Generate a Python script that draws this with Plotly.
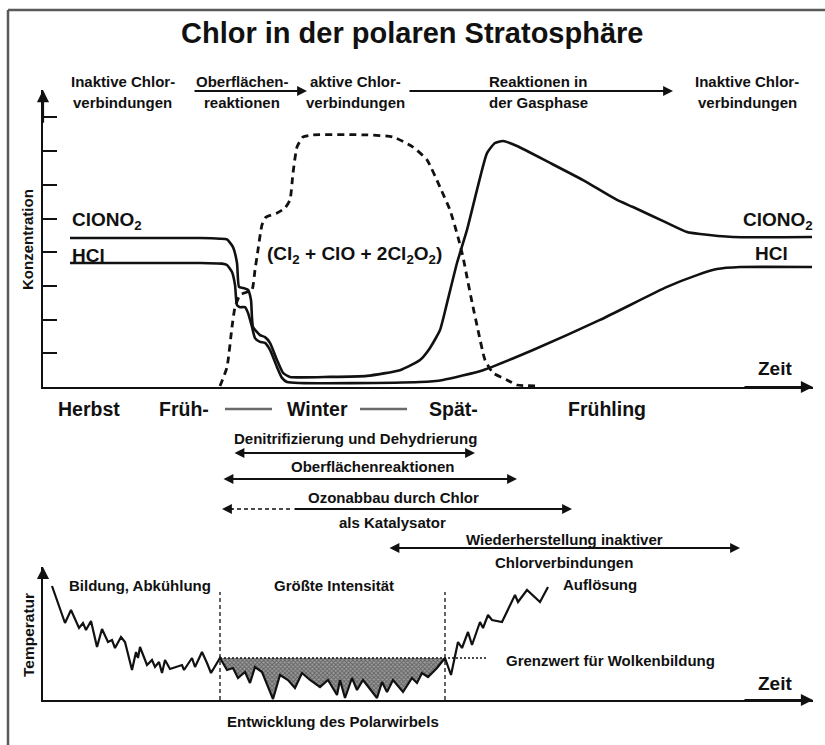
import plotly.graph_objects as go

W, H = 825, 745

# ---------------- data: upper panel (time units / concentration units) ----------------
clono2_t = [2.7, 15.7, 17.7, 18.4, 19.0, 19.4, 19.6, 20.0, 20.5, 20.8, 21.0, 21.7, 22.2, 22.7, 23.4, 24.0, 24.7, 28.7, 32.4, 35.7,
            37.7, 38.7, 39.7, 40.4, 41.4, 42.4, 43.4, 44.4, 45.2, 46.0, 47.4, 50.7, 54.0, 57.4, 59.0, 62.4, 64.4, 65.7, 69.0, 76.9]
clono2_c = [4.42, 4.42, 4.40, 4.38, 4.15, 3.68, 2.97, 2.94, 2.88, 2.58, 1.78, 1.54, 1.48, 1.31, 0.80, 0.42, 0.30, 0.30, 0.33, 0.50,
            0.80, 1.16, 1.69, 2.49, 3.68, 4.66, 5.85, 6.94, 7.24, 7.30, 7.15, 6.65, 6.14, 5.55, 5.34, 4.87, 4.60, 4.54, 4.45, 4.45]

hcl_t = [2.7, 15.7, 17.9, 18.4, 18.9, 19.2, 19.4, 19.7, 20.2, 20.5, 20.9, 21.2, 21.7, 22.2, 22.7, 23.4, 23.9, 24.4,
         37.7, 40.0, 44.0, 49.0, 55.7, 62.4, 65.4, 67.4, 69.7, 76.9]
hcl_c = [3.68, 3.68, 3.66, 3.62, 3.41, 3.03, 2.43, 2.37, 2.37, 2.20, 1.78, 1.45, 1.34, 1.31, 1.10, 0.59, 0.27, 0.15,
         0.15, 0.21, 0.50, 1.10, 1.99, 2.97, 3.32, 3.50, 3.56, 3.56]

active_t = [17.7, 18.4, 18.9, 19.2, 19.7, 20.4, 20.9, 21.2, 21.5, 21.9, 22.3, 23.4, 24.2, 24.7, 25.0, 25.4, 26.0, 27.0,
            32.4, 35.0, 37.0, 38.4, 39.7, 40.7, 41.5, 42.0, 42.4, 42.9, 43.5, 44.2, 45.0, 46.4, 47.4, 49.7]
active_c = [0.03, 0.59, 1.78, 2.37, 2.73, 2.82, 2.88, 3.47, 4.07, 4.81, 5.04, 5.16, 5.31, 5.55, 6.35, 7.12, 7.42, 7.48,
            7.48, 7.42, 7.12, 6.74, 5.93, 5.25, 4.45, 3.86, 3.26, 2.52, 1.69, 0.80, 0.42, 0.21, 0.06, 0.03]

# ---------------- data: lower panel (temperature) ----------------
temp_t = [0.9, 2.2, 2.8, 3.6, 4.0, 4.3, 4.8, 5.4, 5.9, 6.5, 6.9, 7.2, 7.8, 8.2, 8.9, 9.3, 9.5, 9.7, 10.4, 10.9,
          11.2, 11.6, 11.9, 12.2, 12.7, 13.4, 13.9, 14.1, 14.9, 15.2, 15.9, 16.4, 16.8, 17.7, 18.4, 19.0, 19.5, 20.2, 20.7, 21.2,
          21.9, 23.0, 23.7, 24.5, 25.2, 25.9, 26.7, 27.7, 28.5, 29.4, 29.7, 30.2, 30.9, 31.4, 32.0, 33.4, 33.9, 34.4, 35.0, 36.0,
          36.9, 37.4, 37.9, 38.5, 39.4, 40.2, 40.8, 41.5, 41.9, 42.5, 42.9, 43.7, 44.0, 44.5, 44.9, 45.9, 47.2, 47.5, 48.4, 49.7, 50.5]
temp_v = [11.4, 7.7, 9.0, 7.2, 7.7, 7.0, 7.9, 5.3, 7.1, 5.8, 6.0, 5.2, 6.3, 5.8, 3.0, 4.8, 4.2, 5.3, 3.5, 4.0,
          3.3, 3.8, 2.7, 4.0, 3.1, 3.3, 3.5, 3.0, 4.2, 3.3, 4.8, 3.7, 2.7, 4.2, 3.0, 3.2, 2.2, 2.8, 1.7, 3.3,
          2.8, 0.1, 2.5, 2.0, 1.2, 2.7, 2.0, 1.3, 2.0, 0.5, 2.0, 0.2, 2.2, 1.0, 2.0, 0.2, 1.8, 0.8, 2.0, 0.8,
          2.2, 1.7, 2.7, 2.3, 3.2, 4.2, 2.5, 5.8, 5.2, 6.8, 5.5, 7.8, 7.2, 8.5, 8.0, 7.8, 10.5, 9.8, 11.0, 9.8, 11.3]
cloud_threshold = 4.2
vortex_start, vortex_end = 17.7, 40.2
threshold_line_end = 44.3

# time spans of the processes (upper time axis units)
span_top = [(15.0, 26.4), (36.5, 63.0)]
span_denitr = (19.0, 43.2)
span_surface = (17.9, 47.4)
span_ozone_dashed = (17.9, 25.0)
span_ozone = (25.0, 52.9)
span_restore = (34.5, 69.7)

FONT = "Liberation Sans, Arial, Helvetica, sans-serif"
LINE = "#111111"
SMALL = 15

fig = go.Figure()

# upper panel curves
fig.add_trace(go.Scatter(x=clono2_t, y=clono2_c, mode="lines", line=dict(color=LINE, width=2.6, shape="spline", smoothing=0.5),
                         xaxis="x", yaxis="y", hoverinfo="skip"))
fig.add_trace(go.Scatter(x=hcl_t, y=hcl_c, mode="lines", line=dict(color=LINE, width=2.6, shape="spline", smoothing=0.5),
                         xaxis="x", yaxis="y", hoverinfo="skip"))
fig.add_trace(go.Scatter(x=active_t, y=active_c, mode="lines",
                         line=dict(color=LINE, width=2.8, dash="7px,5px", shape="spline", smoothing=0.5),
                         xaxis="x", yaxis="y", hoverinfo="skip"))

# lower panel: shaded area below cloud threshold during vortex
sub_t = [t for t in temp_t if vortex_start <= t <= vortex_end]
sub_v = [v for t, v in zip(temp_t, temp_v) if vortex_start <= t <= vortex_end]
fig.add_trace(go.Scatter(x=[vortex_start, vortex_end], y=[cloud_threshold, cloud_threshold], mode="lines",
                         line=dict(width=0, color="rgba(0,0,0,0)"), xaxis="x2", yaxis="y2", hoverinfo="skip"))
fig.add_trace(go.Scatter(x=sub_t, y=sub_v, mode="lines", line=dict(width=0, color="rgba(0,0,0,0)"), fill="tonexty",
                         fillcolor="#7a7a7a",
                         fillpattern=dict(shape="x", size=3, solidity=0.5, fgcolor="#2a2a2a", bgcolor="#9a9a9a"),
                         xaxis="x2", yaxis="y2", hoverinfo="skip"))
fig.add_trace(go.Scatter(x=[vortex_start, threshold_line_end], y=[cloud_threshold, cloud_threshold], mode="lines",
                         line=dict(color=LINE, width=1.6, dash="2px,2px"), xaxis="x2", yaxis="y2", hoverinfo="skip"))
fig.add_trace(go.Scatter(x=temp_t, y=temp_v, mode="lines", line=dict(color=LINE, width=2.2),
                         xaxis="x2", yaxis="y2", hoverinfo="skip"))

# dashed vertical markers (vortex phases)
for xv in (vortex_start, vortex_end):
    fig.add_shape(type="line", xref="x2", yref="y2", x0=xv, x1=xv, y0=0, y1=10.8,
                  line=dict(color=LINE, width=1.3, dash="4px,3px"))

# frame
fig.add_shape(type="line", xref="paper", yref="paper", x0=8 / W, x1=1.0, y0=1 - 10 / H, y1=1 - 10 / H,
              line=dict(color="#5a5a5a", width=2.5))
fig.add_shape(type="line", xref="paper", yref="paper", x0=8 / W, x1=8 / W, y0=1 - 10 / H, y1=0,
              line=dict(color="#5a5a5a", width=2.5))

# season separators
for a, b in [(225, 272), (360, 407)]:
    fig.add_shape(type="line", xref="paper", yref="paper", x0=a / W, x1=b / W, y0=1 - 409 / H, y1=1 - 409 / H,
                  line=dict(color="#6a6a6a", width=2.5))


def P(px, py):
    return px / W, 1 - py / H


def text(s, px, py, size=SMALL, bold=True, xanchor="center", angle=0, yanchor="middle"):
    x, y = P(px, py)
    fig.add_annotation(x=x, y=y, xref="paper", yref="paper", text=(f"<b>{s}</b>" if bold else s), showarrow=False,
                       xanchor=xanchor, yanchor=yanchor, textangle=angle,
                       font=dict(family=FONT, size=size, color=LINE))


def arrow(x0, x1, py, both=False, width=1.8, xref="x"):
    fig.add_annotation(x=x1, y=1 - py / H, ax=x0, ay=0, xref=xref, yref="paper", axref=xref, ayref="pixel",
                       showarrow=True, arrowhead=2, arrowsize=1.1, arrowwidth=width,
                       arrowside="end+start" if both else "end", arrowcolor=LINE, text="", standoff=0, startstandoff=0)


# axis arrowheads
fig.add_annotation(x=0, y=8.81, ax=0, ay=7.8, xref="x", yref="y", axref="x", ayref="y", showarrow=True,
                   arrowhead=2, arrowsize=1.1, arrowwidth=2.2, arrowcolor=LINE, text="")
fig.add_annotation(x=77, y=0, ax=70, ay=0, xref="x", yref="y", axref="x", ayref="y", showarrow=True,
                   arrowhead=2, arrowsize=1.1, arrowwidth=2.2, arrowcolor=LINE, text="")
fig.add_annotation(x=0, y=13.3, ax=0, ay=12.0, xref="x2", yref="y2", axref="x2", ayref="y2", showarrow=True,
                   arrowhead=2, arrowsize=1.1, arrowwidth=2.2, arrowcolor=LINE, text="")
fig.add_annotation(x=77, y=0, ax=70, ay=0, xref="x2", yref="y2", axref="x2", ayref="y2", showarrow=True,
                   arrowhead=2, arrowsize=1.1, arrowwidth=2.2, arrowcolor=LINE, text="")

# process arrows
for a, b in span_top:
    arrow(a, b, 91, width=1.8)
arrow(span_denitr[0], span_denitr[1], 453, both=True)
arrow(span_surface[0], span_surface[1], 479, both=True)
fig.add_shape(type="line", xref="x", yref="paper", x0=span_ozone_dashed[0] + 0.8, x1=span_ozone_dashed[1],
              y0=1 - 509 / H, y1=1 - 509 / H, line=dict(color=LINE, width=1.6, dash="4px,3px"))
arrow(span_ozone[0], span_ozone[1], 509)
arrow(span_ozone_dashed[0] + 1.2, span_ozone_dashed[0], 509)
arrow(span_restore[0], span_restore[1], 548, both=True)

# title
text("Chlor in der polaren Stratosphäre", 412, 33, size=29, bold=True)

# header labels
for s1, s2, cx in [("Inaktive Chlor-", "verbindungen", 123), ("Oberflächen-", "reaktionen", 242),
                   ("aktive Chlor-", "verbindungen", 355), ("Reaktionen in", "der Gasphase", 538),
                   ("Inaktive Chlor-", "verbindungen", 747)]:
    text(s1, cx, 81)
    text(s2, cx, 103)

# species labels
text("ClONO<sub>2</sub>", 70, 221, size=19, xanchor="left")
text("HCl", 70, 255, size=19, xanchor="left")
text("ClONO<sub>2</sub>", 815, 221, size=19, xanchor="right")
text("HCl", 790, 254, size=19, xanchor="right")
text("(Cl<sub>2</sub> + ClO + 2Cl<sub>2</sub>O<sub>2</sub>)", 265, 255, size=19, xanchor="left")
text("Zeit", 794, 368, size=19, xanchor="right")
text("Konzentration", 28, 240, angle=-90)

# seasons
for s, px in [("Herbst", 56), ("Früh-", 157), ("Winter", 285), ("Spät-", 427), ("Frühling", 566)]:
    text(s, px, 409, size=19.5, xanchor="left")

# process labels
text("Denitrifizierung und Dehydrierung", 355, 439)
text("Oberflächenreaktionen", 372, 466)
text("Ozonabbau durch Chlor", 393, 497)
text("als Katalysator", 392, 522)
text("Wiederherstellung inaktiver", 564, 539)
text("Chlorverbindungen", 564, 562)

# lower panel labels
text("Bildung, Abkühlung", 140, 585)
text("Größte Intensität", 334, 585)
text("Auflösung", 600, 584)
text("Grenzwert für Wolkenbildung", 610, 660)
text("Entwicklung des Polarwirbels", 333, 721)
text("Zeit", 794, 683, size=19, xanchor="right")
text("Temperatur", 28, 635, size=15.5, angle=-90)

axis_common = dict(showgrid=False, zeroline=False, showline=True, linecolor=LINE, linewidth=2.4)
fig.update_layout(
    width=W, height=H, autosize=False,
    margin=dict(l=0, r=0, t=0, b=0),
    paper_bgcolor="white", plot_bgcolor="white",
    showlegend=False,
    xaxis=dict(domain=[43 / W, 813 / W], range=[0, 77], anchor="y", showticklabels=False, ticks="", **axis_common),
    yaxis=dict(domain=[1 - 387 / H, 1 - 90 / H], range=[0, 297 / 33.7], anchor="x", showticklabels=False,
               ticks="inside", ticklen=14, tickwidth=2, tickcolor=LINE, tick0=0, dtick=1, **axis_common),
    xaxis2=dict(domain=[43 / W, 813 / W], range=[0, 77], anchor="y2", showticklabels=False, ticks="", **axis_common),
    yaxis2=dict(domain=[1 - 700 / H, 1 - 567 / H], range=[0, 13.3], anchor="x2", showticklabels=False, ticks="",
                **axis_common),
)

fig.write_html("out.html", config={"displayModeBar": False},
               post_script="document.body.style.margin='0';document.body.style.overflow='hidden';")
